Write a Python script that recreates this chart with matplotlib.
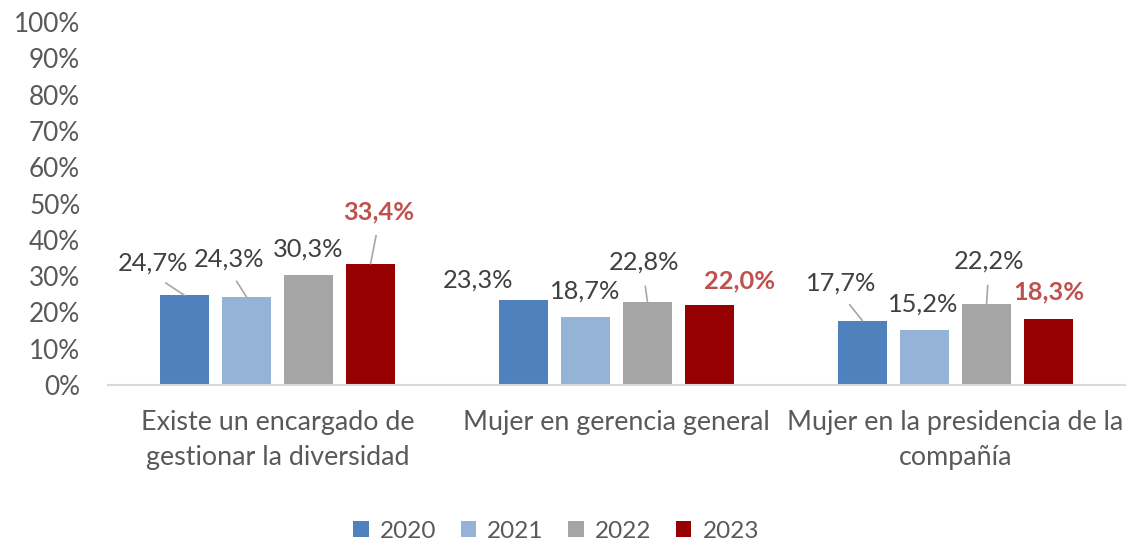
import numpy as np
import matplotlib
matplotlib.use('Agg')
import matplotlib.pyplot as plt

plt.rcParams['font.family'] = ['Lato', 'DejaVu Sans']

categories = ['Existe un encargado de\ngestionar la diversidad',
              'Mujer en gerencia general',
              'Mujer en la presidencia de la\ncompañía']
years = ['2020', '2021', '2022', '2023']

v2020 = [24.7, 23.3, 17.7]
v2021 = [24.3, 18.7, 15.2]
v2022 = [30.3, 22.8, 22.2]
v2023 = [33.4, 22.0, 18.3]

colors = ['#4F81BD', '#95B3D7', '#A5A5A5', '#960000']

# posiciones de las etiquetas (px, relativo al tope de la barra) y si tienen linea guia
label_off = [
    [(-31, 32, True), (-45, 20, False), (-21, 38, True)],
    [(-17, 38, True), (0, 26, False), (-1, 26, False)],
    [(0, 26, False), (-4, 40, True), (2, 43, True)],
    [(8, 52, True), (30, 24, False), (0, 27, False)],
]

fig = plt.figure(figsize=(11.35, 5.42), dpi=100)
ax = fig.add_axes([108/1135, 1-385/542, (1125-108)/1135, (385-22)/542])

x = np.arange(len(categories))
width = 0.142
step = 0.183
series = [v2020, v2021, v2022, v2023]

for i, vals in enumerate(series):
    pos = x + (i - 1.5) * step
    ax.bar(pos, vals, width, color=colors[i], label=years[i], zorder=2)
    for j, v in enumerate(vals):
        dx, dy, lead = label_off[i][j]
        txt = ('%.1f%%' % v).replace('.', ',')
        if i == 3:
            kw = dict(color='#C0504D', fontweight='bold')
        else:
            kw = dict(color='#404040')
        ap = None
        if lead:
            ap = dict(arrowstyle='-', color='#A6A6A6', lw=1.2,
                      shrinkA=7, shrinkB=0, relpos=(0.5, 0))
        ax.annotate(txt, (pos[j], v), xytext=(dx, dy), textcoords='offset pixels',
                    ha='center', va='center', fontsize=18.3, arrowprops=ap, **kw)

ax.set_ylim(0, 100)
ax.set_xlim(-0.5, 2.5)
ax.set_yticks(np.arange(0, 101, 10))
ax.set_yticklabels(['%d%%' % t for t in range(0, 101, 10)])
ax.set_xticks(x)
ax.set_xticklabels(categories, linespacing=1.5)

for s in ['top', 'right', 'left']:
    ax.spines[s].set_visible(False)
ax.spines['bottom'].set_color('#D9D9D9')
ax.spines['bottom'].set_linewidth(1.5)
ax.tick_params(axis='y', length=0, pad=20, labelsize=18.8, labelcolor='#595959')
ax.tick_params(axis='x', length=0, pad=18, labelsize=19.4, labelcolor='#595959')

leg = fig.legend(loc='center', bbox_to_anchor=(556/1135, 1-531/542), ncol=4, frameon=False,
                 fontsize=17.5, handlelength=0.65, handleheight=0.65, handletextpad=0.45,
                 columnspacing=1.0)
for t in leg.get_texts():
    t.set_color('#595959')

fig.savefig('out.png', dpi=100)
